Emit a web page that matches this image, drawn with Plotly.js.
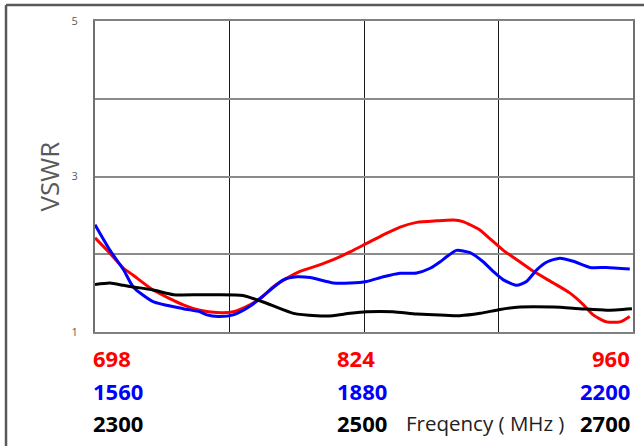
<!DOCTYPE html>
<html>
<head>
<meta charset="utf-8">
<script src="https://cdn.plot.ly/plotly-3.0.1.min.js"></script>
<style>
  html, body { margin: 0; padding: 0; background: #fff; }
  #chart { width: 644px; height: 446px; }
</style>
</head>
<body>
<div id="chart"></div>
<script>
// Sweep position (% of band) and measured VSWR for each band
const redPos  = [0, 2.8, 5.3, 7.1, 10.8, 16.4, 19.5, 22.6, 25.7, 28.8, 30.7, 33.1, 35.6, 38.1, 41.2, 44.3, 47.4, 50.5, 53.6, 56.7, 59.8, 63.5, 66.6, 68.4, 71.6, 73.4, 75.9, 78.4, 81.5, 85.2, 88.3, 90.8, 92.6, 95.1, 97.6, 99.4];
const redVswr = [2.21, 2.01, 1.82, 1.73, 1.54, 1.35, 1.28, 1.25, 1.26, 1.35, 1.43, 1.58, 1.69, 1.78, 1.85, 1.93, 2.03, 2.14, 2.25, 2.35, 2.41, 2.43, 2.44, 2.42, 2.31, 2.20, 2.05, 1.93, 1.78, 1.63, 1.50, 1.35, 1.22, 1.13, 1.13, 1.20];

const bluePos  = [0, 2.8, 5.3, 7.1, 10.8, 16.4, 19.5, 20.8, 22.9, 25.7, 28.8, 31.9, 35.0, 37.5, 40.0, 44.3, 47.4, 50.5, 53.6, 56.7, 59.8, 62.3, 64.1, 65.4, 67.2, 69.7, 72.2, 74.0, 75.9, 78.4, 80.2, 82.1, 84.0, 86.4, 88.9, 92.0, 95.1, 99.4];
const blueVswr = [2.38, 2.05, 1.80, 1.58, 1.39, 1.30, 1.26, 1.22, 1.20, 1.22, 1.33, 1.50, 1.67, 1.71, 1.70, 1.63, 1.63, 1.65, 1.71, 1.755, 1.76, 1.82, 1.90, 1.97, 2.05, 2.02, 1.90, 1.78, 1.67, 1.60, 1.65, 1.80, 1.90, 1.95, 1.91, 1.83, 1.83, 1.81];

const blackPos  = [0, 2.8, 5.3, 7.1, 10.8, 14.6, 19.5, 22.6, 27.5, 31.9, 36.9, 41.2, 44.2, 47.4, 50.5, 55.4, 59.8, 64.1, 67.8, 71.6, 75.3, 79.0, 85.2, 90.1, 95.1, 99.8];
const blackVswr = [1.61, 1.63, 1.60, 1.58, 1.54, 1.48, 1.48, 1.48, 1.47, 1.37, 1.24, 1.21, 1.21, 1.24, 1.26, 1.26, 1.23, 1.22, 1.21, 1.24, 1.29, 1.32, 1.32, 1.30, 1.28, 1.30];

// Tick labels (start / middle / end of each band, MHz)
const redTicks   = ["698", "824", "960"];
const blueTicks  = ["1560", "1880", "2200"];
const blackTicks = ["2300", "2500", "2700"];
const yTickVals  = [1, 2, 3, 4, 5];
const yTickText  = ["1", "", "3", "", "5"];
const xTitle = "Freqency ( MHz )";
const yTitle = "VSWR";

const lineShape = {shape: "spline", smoothing: 0.6, width: 3};
const traces = [
  {x: redPos, y: redVswr, mode: "lines", line: Object.assign({color: "#ff0000"}, lineShape), name: "698-960"},
  {x: bluePos, y: blueVswr, mode: "lines", line: Object.assign({color: "#0000ff"}, lineShape), name: "1560-2200"},
  {x: blackPos, y: blackVswr, mode: "lines", line: Object.assign({color: "#000000"}, lineShape), name: "2300-2700"}
];

const tickFont = {family: "Open Sans, sans-serif", size: 22, weight: 700};
const rows = [
  {labels: redTicks, color: "#ff0000", shift: -25.5},
  {labels: blueTicks, color: "#0000ff", shift: -58.5},
  {labels: blackTicks, color: "#000000", shift: -91}
];
const annotations = [];
rows.forEach(r => {
  annotations.push({x: 0, y: 0, xref: "x", yref: "paper", text: "<b>" + r.labels[0] + "</b>", showarrow: false,
    xanchor: "left", yanchor: "middle", xshift: -4, yshift: r.shift, font: Object.assign({}, tickFont, {color: r.color})});
  annotations.push({x: 50, y: 0, xref: "x", yref: "paper", text: "<b>" + r.labels[1] + "</b>", showarrow: false,
    xanchor: "left", yanchor: "middle", xshift: -29, yshift: r.shift, font: Object.assign({}, tickFont, {color: r.color})});
  annotations.push({x: 100, y: 0, xref: "x", yref: "paper", text: "<b>" + r.labels[2] + "</b>", showarrow: false,
    xanchor: "right", yanchor: "middle", xshift: -1, yshift: r.shift, font: Object.assign({}, tickFont, {color: r.color})});
});
annotations.push({x: 0.7258, y: 0, xref: "paper", yref: "paper", text: xTitle, showarrow: false,
  xanchor: "center", yanchor: "middle", yshift: -91, font: {family: "Open Sans, sans-serif", size: 20.5, color: "#222222"}});

const layout = {
  width: 644, height: 446,
  margin: {l: 95, r: 11, t: 21, b: 114},
  paper_bgcolor: "#ffffff", plot_bgcolor: "#ffffff",
  showlegend: false,
  xaxis: {
    range: [0, 100], tickvals: [0, 25, 50, 75, 100], showticklabels: false, ticks: "",
    showgrid: true, gridcolor: "#1a1a1a", gridwidth: 1, zeroline: false,
    showline: true, mirror: true, linecolor: "#808080", linewidth: 2
  },
  yaxis: {
    range: [1, 5], tickvals: yTickVals, ticktext: yTickText,
    ticks: "outside", ticklen: 13, tickcolor: "rgba(0,0,0,0)",
    tickfont: {family: "Open Sans, sans-serif", size: 11, color: "#595959"},
    showgrid: true, gridcolor: "#8a8a8a", gridwidth: 2, zeroline: false,
    showline: true, mirror: true, linecolor: "#707070", linewidth: 2,
    title: {text: yTitle, standoff: 4, font: {family: "Open Sans, sans-serif", size: 26, color: "#595959"}}
  },
  annotations: annotations,
  shapes: [
    {type: "line", xref: "paper", yref: "paper", x0: -0.1654, x1: 1.05, y0: 1.0514, y1: 1.0514, line: {color: "#595959", width: 2.5}},
    {type: "line", xref: "paper", yref: "paper", x0: -0.1654, x1: -0.1654, y0: 1.0514, y1: -0.5, line: {color: "#595959", width: 2.5}}
  ]
};

Plotly.newPlot("chart", traces, layout, {staticPlot: true, displayModeBar: false});
</script>
</body>
</html>
